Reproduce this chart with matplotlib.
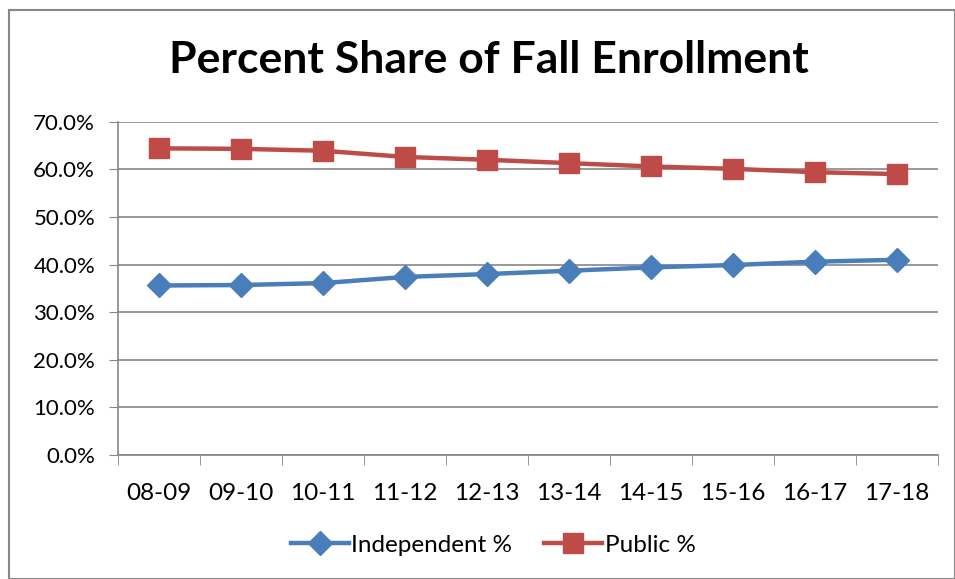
import matplotlib.pyplot as plt
from matplotlib.patches import Rectangle
from matplotlib.ticker import FuncFormatter, FixedLocator

plt.rcParams['font.family'] = ['Lato', 'DejaVu Sans']

years = ['08-09', '09-10', '10-11', '11-12', '12-13', '13-14', '14-15', '15-16', '16-17', '17-18']
independent = [35.6, 35.7, 36.1, 37.4, 38.0, 38.7, 39.4, 39.9, 40.6, 41.0]
public = [64.4, 64.3, 63.9, 62.6, 62.0, 61.3, 60.6, 60.1, 59.4, 59.0]

W, H = 955, 579
fig = plt.figure(figsize=(W / 100, H / 100), dpi=100)
ax = fig.add_axes([118 / W, 1 - 455 / H, (938 - 118) / W, (455 - 121.7) / H])

# outer chart border
fig.patches.append(Rectangle((9 / W, 0), (W - 9) / W, 1 - 10 / H, transform=fig.transFigure,
                             fill=False, edgecolor='#888888', linewidth=1.5))

x = range(len(years))
ax.plot(x, independent, color='#4A7EBB', linewidth=3.2, marker='D', markersize=12,
        label='Independent %')
ax.plot(x, public, color='#BE4B48', linewidth=3.2, marker='s', markersize=14.5,
        label='Public %')

ax.set_xlim(-0.5, len(years) - 0.5)
ax.set_ylim(0, 70)
ax.set_yticks(range(0, 71, 10))
ax.yaxis.set_major_formatter(FuncFormatter(lambda v, p: f'{v:.1f}%'))
ax.grid(axis='y', color='#868686', linewidth=1.2)
ax.set_axisbelow(True)

ax.set_xticks(list(x))
ax.set_xticklabels(years)
ax.xaxis.set_minor_locator(FixedLocator([i - 0.5 for i in range(len(years) + 1)]))
ax.tick_params(axis='x', which='major', length=0, pad=20, labelsize=17.5)
ax.tick_params(axis='x', which='minor', length=7, color='#868686', direction='out')
ax.tick_params(axis='y', length=6.5, color='#868686', labelsize=16, pad=10)

for s in ['top', 'right']:
    ax.spines[s].set_visible(False)
for s in ['left', 'bottom']:
    ax.spines[s].set_color('#868686')
    ax.spines[s].set_linewidth(1.2)

fig.text(489 / W, 1 - 60 / H, 'Percent Share of Fall Enrollment', ha='center', va='center',
         fontsize=32, fontweight='bold')

fig.legend(loc='center', bbox_to_anchor=(493 / W, 1 - 545 / H), ncol=2, frameon=False,
           fontsize=17.5, handlelength=2.4, columnspacing=1.3, handletextpad=0.1)

fig.savefig('out.png', dpi=100)
